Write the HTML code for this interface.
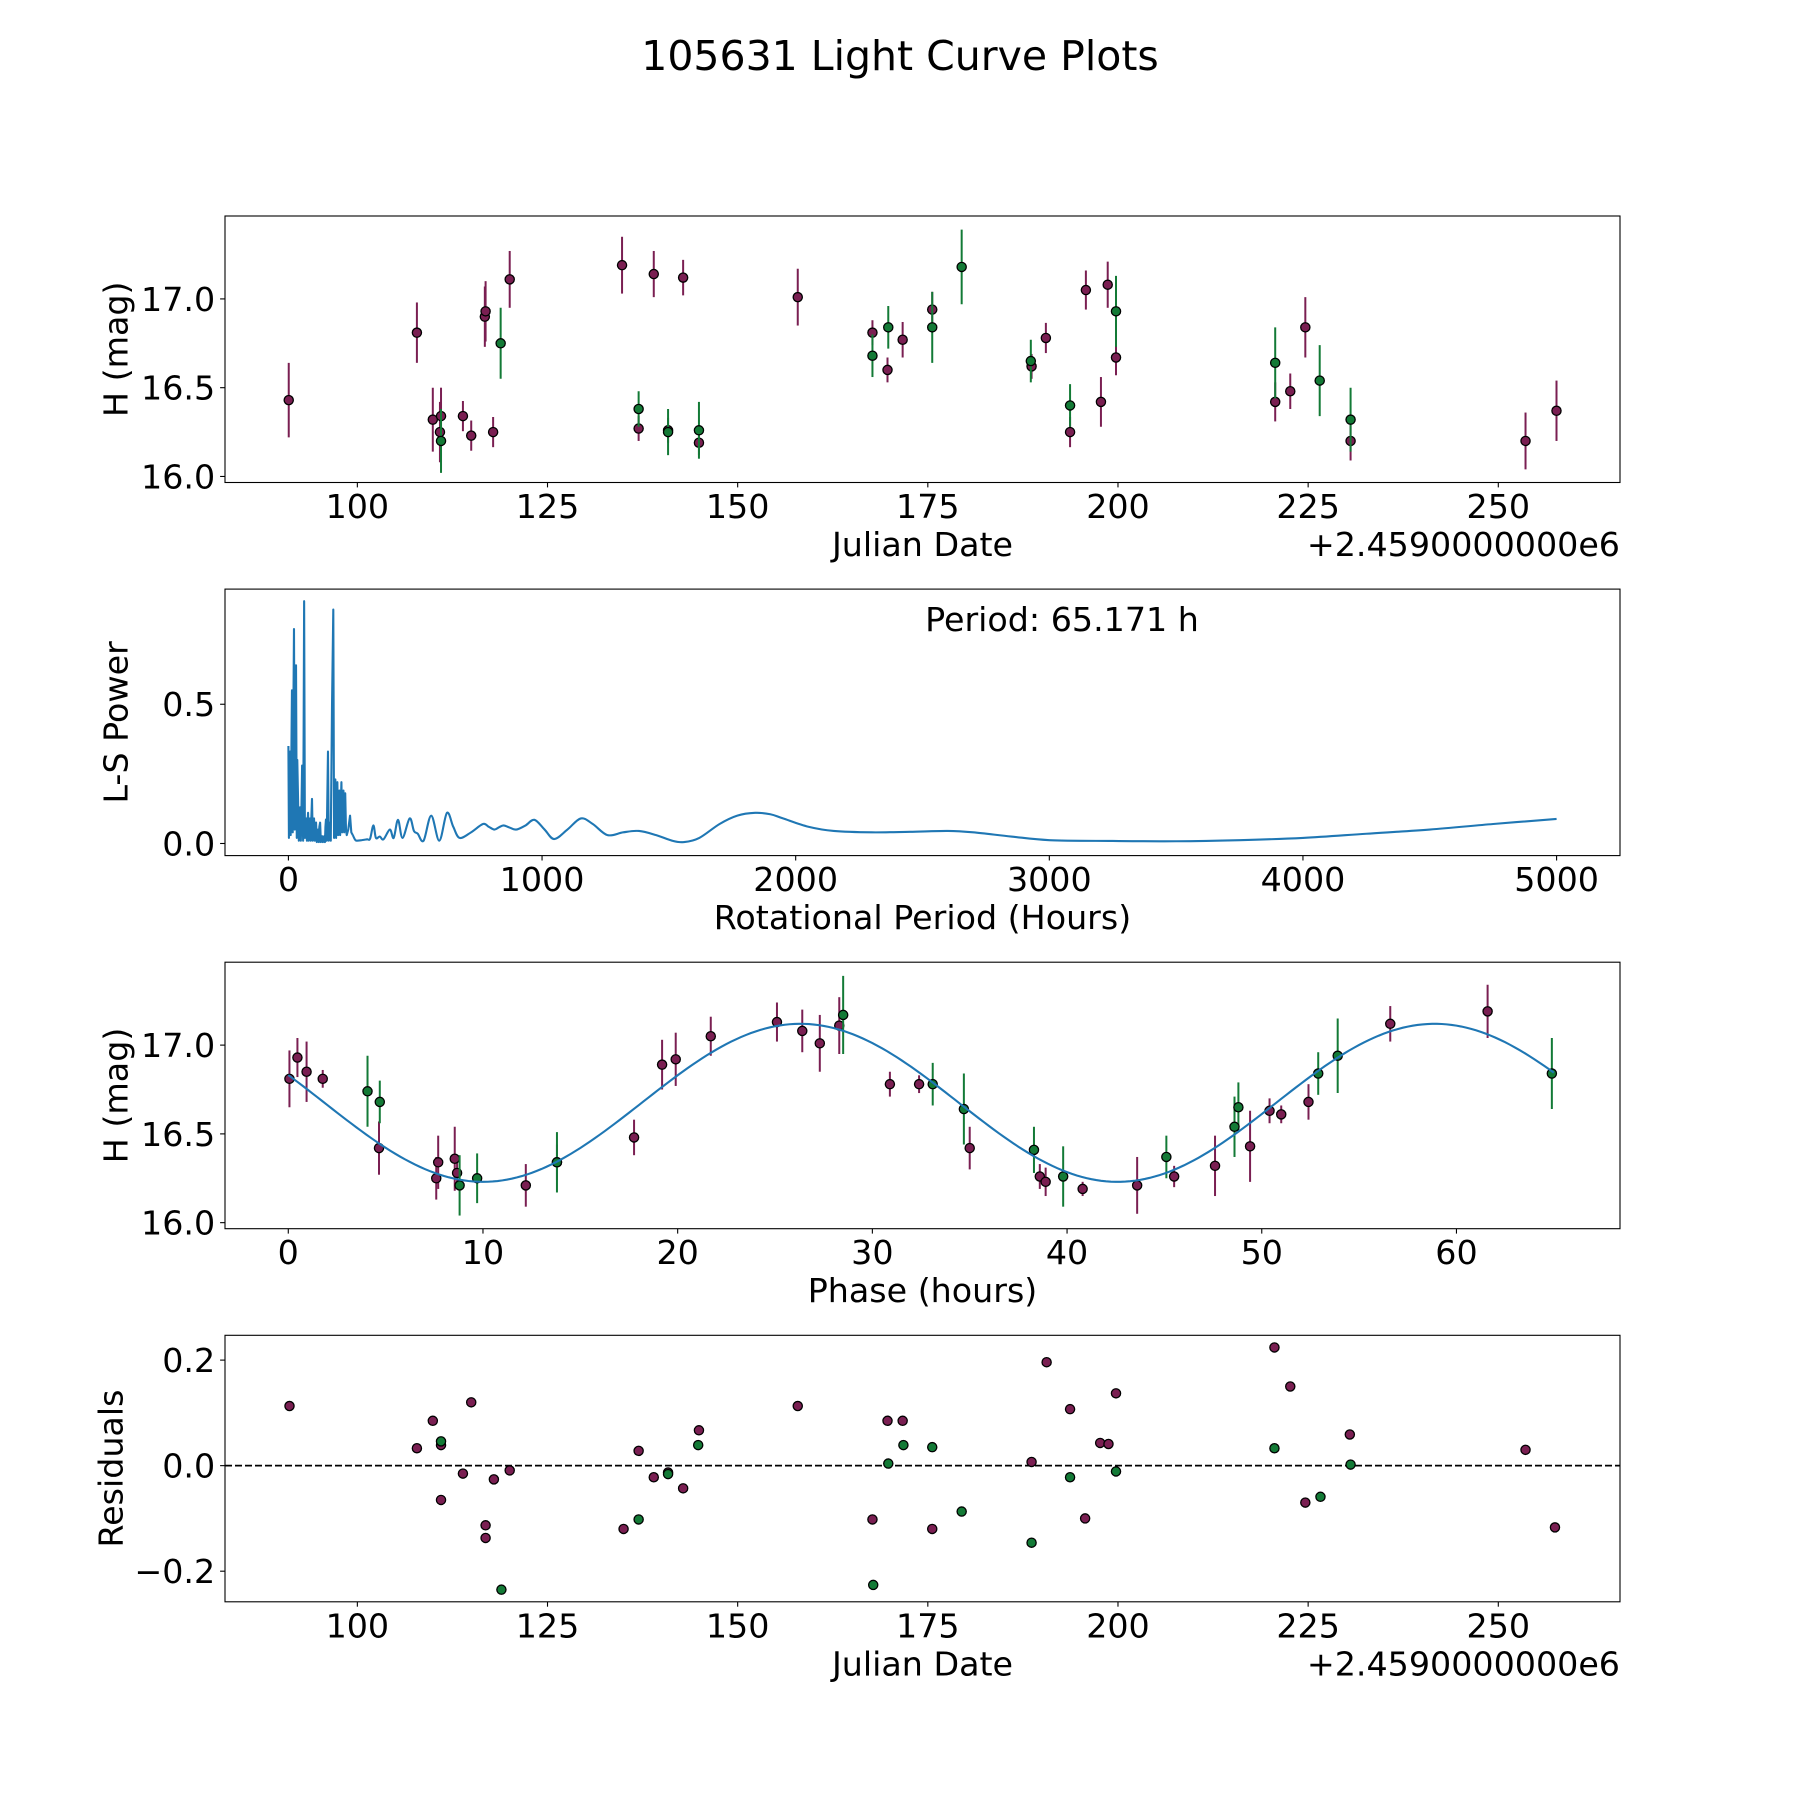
<!DOCTYPE html>
<html><head><meta charset="utf-8"><style>
html,body{margin:0;padding:0;background:#fff;}
svg{display:block;font-family:"DejaVu Sans","Liberation Sans",sans-serif;}
</style></head><body>
<svg id="fig" width="1800" height="1800" viewBox="0 0 1800 1800" xmlns="http://www.w3.org/2000/svg">
<rect width="1800" height="1800" fill="#fff"/>
<text x="900" y="70" font-size="41" text-anchor="middle">105631 Light Curve Plots</text>
</svg>
<script>
// ---- Panel 1: light curve (Julian date offsets) ----
const lcDatesP = [90.98,107.83,109.92,110.86,111.0,113.88,114.97,116.76,116.86,117.85,120.03,134.8,136.98,138.97,140.85,142.83,144.91,157.9,167.72,169.7,171.69,175.58,188.64,190.52,193.7,195.78,197.76,198.65,199.74,220.67,222.65,224.63,230.58,253.58,257.65];
const lcMagP = [16.43,16.81,16.32,16.25,16.34,16.34,16.23,16.90,16.93,16.25,17.11,17.19,16.27,17.14,16.26,17.12,16.19,17.01,16.81,16.60,16.77,16.94,16.62,16.78,16.25,17.05,16.42,17.08,16.67,16.42,16.48,16.84,16.20,16.20,16.37];
const lcErrP = [0.21,0.17,0.18,0.17,0.16,0.085,0.085,0.17,0.17,0.085,0.16,0.16,0.07,0.13,0.07,0.10,0.07,0.16,0.07,0.07,0.10,0.10,0.07,0.085,0.085,0.11,0.14,0.13,0.10,0.11,0.10,0.17,0.11,0.16,0.17];
const lcDatesG = [111.0,118.84,136.98,140.85,144.91,167.72,169.8,175.58,179.45,188.54,193.7,199.74,220.67,226.52,230.58];
const lcMagG = [16.20,16.75,16.38,16.25,16.26,16.68,16.84,16.84,17.18,16.65,16.40,16.93,16.64,16.54,16.32];
const lcErrG = [0.18,0.20,0.10,0.13,0.16,0.12,0.12,0.20,0.21,0.12,0.12,0.20,0.20,0.20,0.18];
const dateTicks = [100,125,150,175,200,225,250];
const magTicks = [16.0,16.5,17.0];
const magTickLabels = ["16.0","16.5","17.0"];

// ---- Panel 2: Lomb-Scargle periodogram ----
const lsPeriod = [0,2,4,6.6,9,11,14,17,19,22,25,27,30,33,35,38,41,43,46,49,51,54,58,60,62,65,67,70,73,75,77.5,80,82,85,88,90,93,96,98,101,104,106,109,112,114,117,120,122,125,128,130,133,136,138,141,144,146,148,151,156,159,164,167,172,177,180,183,185,188,191,193,196,199,201,204,207,209,212,215,217,220,222,224,227,230,236,243,248,254];
const lsPower = [0.35,0.02,0.30,0.33,0.03,0.25,0.55,0.04,0.40,0.77,0.05,0.50,0.64,0.02,0.30,0.16,0.01,0.12,0.13,0.01,0.10,0.28,0.01,0.40,0.87,0.02,0.06,0.09,0.01,0.07,0.11,0.01,0.06,0.09,0.01,0.08,0.16,0.01,0.06,0.09,0.01,0.05,0.075,0.005,0.04,0.05,0.005,0.06,0.075,0.005,0.02,0.026,0.005,0.02,0.026,0.005,0.06,0.086,0.01,0.33,0.01,0.075,0.01,0.50,0.84,0.02,0.10,0.23,0.02,0.15,0.22,0.03,0.12,0.19,0.03,0.15,0.22,0.04,0.12,0.19,0.04,0.14,0.18,0.05,0.03,0.05,0.10,0.04,0.03];
const lsPeriodSmooth = [254,262,269,290,310,322,335,345,360,375,400,415,432,450,478,495,510,533,563,595,625,650,675,720,767,790,812,830,848,870,898,935,970,1010,1048,1100,1153,1200,1258,1320,1382,1450,1513,1560,1620,1700,1770,1840,1900,1950,2050,2150,2300,2450,2600,2700,2850,3000,3250,3500,3750,4000,4250,4500,4750,5000];
const lsPowerSmooth = [0.03,0.015,0.01,0.012,0.015,0.017,0.065,0.02,0.025,0.015,0.05,0.02,0.085,0.02,0.09,0.045,0.035,0.01,0.10,0.01,0.11,0.06,0.02,0.04,0.07,0.06,0.05,0.058,0.065,0.058,0.05,0.065,0.085,0.05,0.016,0.05,0.09,0.07,0.03,0.04,0.045,0.03,0.01,0.005,0.02,0.07,0.10,0.11,0.105,0.09,0.06,0.045,0.04,0.042,0.045,0.04,0.025,0.012,0.009,0.008,0.012,0.02,0.035,0.05,0.07,0.088];
const periodTicks = [0,1000,2000,3000,4000,5000];
const powerTicks = [0.0,0.5];
const powerTickLabels = ["0.0","0.5"];

// ---- Panel 3: phased light curve ----
const phP = [0.06,0.47,0.94,1.77,4.66,7.6,7.7,8.55,8.67,12.2,13.8,17.76,19.2,19.9,21.7,25.1,26.4,27.3,28.3,30.9,32.4,35.0,38.6,38.9,40.8,43.6,45.5,47.6,49.4,50.4,51.0,52.4,56.6,61.6];
const phMagP = [16.81,16.93,16.85,16.81,16.42,16.25,16.34,16.36,16.28,16.21,16.34,16.48,16.89,16.92,17.05,17.13,17.08,17.01,17.11,16.78,16.78,16.42,16.26,16.23,16.19,16.21,16.26,16.32,16.43,16.63,16.61,16.68,17.12,17.19];
const phErrP = [0.16,0.11,0.17,0.05,0.15,0.12,0.15,0.18,0.07,0.12,0.10,0.10,0.14,0.15,0.11,0.11,0.12,0.16,0.16,0.07,0.05,0.12,0.07,0.08,0.04,0.16,0.06,0.17,0.20,0.07,0.05,0.10,0.10,0.15];
const phG = [4.07,4.7,8.8,9.7,13.8,28.5,33.1,34.7,38.3,39.8,45.1,48.6,48.8,52.9,53.9,64.9];
const phMagG = [16.74,16.68,16.21,16.25,16.34,17.17,16.78,16.64,16.41,16.26,16.37,16.54,16.65,16.84,16.94,16.84];
const phErrG = [0.20,0.12,0.17,0.14,0.17,0.22,0.12,0.20,0.13,0.17,0.12,0.17,0.14,0.12,0.21,0.20];
const fitParams = [16.675, 0.445, 26.3, 32.585]; // mean, amplitude, phase of max (h), half rotation period (h)
const phaseTicks = [0,10,20,30,40,50,60];

// ---- Panel 4: residuals ----
const resDatesP = [91.08,107.83,109.92,111.0,111.0,113.88,114.97,116.86,116.86,117.95,120.03,135.0,136.98,138.97,140.85,142.83,144.91,157.9,167.72,169.7,171.69,175.58,188.64,190.62,193.7,195.68,197.66,198.75,199.74,220.57,222.65,224.63,230.48,253.58,257.45];
const resP = [0.113,0.033,0.085,0.039,-0.065,-0.015,0.12,-0.113,-0.137,-0.026,-0.009,-0.12,0.028,-0.022,-0.013,-0.043,0.067,0.113,-0.102,0.085,0.085,-0.12,0.007,0.196,0.107,-0.10,0.043,0.041,0.137,0.224,0.15,-0.07,0.059,0.03,-0.117];
const resDatesG = [111.0,118.94,136.98,140.85,144.81,167.82,169.8,171.79,175.58,179.45,188.64,193.7,199.74,220.57,226.62,230.58];
const resG = [0.046,-0.235,-0.102,-0.016,0.039,-0.226,0.004,0.039,0.035,-0.087,-0.146,-0.022,-0.011,0.033,-0.059,0.002];
const resTicks = [-0.2,0.0,0.2];
const resTickLabels = ["\u22120.2","0.0","0.2"];

const NS = "http://www.w3.org/2000/svg";
const svg = document.getElementById("fig");
const L = 225, R = 1620, H = 266.5;
const PURPLE = "#7a1f52", GREEN = "#137a36", BLUE = "#1f77b4";
function mk(tag, attrs, parent) {
  const e = document.createElementNS(NS, tag);
  for (const k in attrs) e.setAttribute(k, attrs[k]);
  (parent || svg).appendChild(e);
  return e;
}
function scale(d0, d1, r0, r1) { return v => r0 + (v - d0) / (d1 - d0) * (r1 - r0); }

function axes(top, xd, yd, name) {
  const g = mk("g", {});
  
  
  const x = scale(xd[0], xd[1], L, R), y = scale(yd[0], yd[1], top + H, top);
  return {g, x, y, top, bottom: top + H};
}
function frame(ax) {
  const f = mk("rect", {x: L, y: ax.top, width: R - L, height: H, fill: "none", stroke: "#000", "stroke-width": 1.1}, ax.g);
  
  
}
function xticks(ax, vals, labels, label, offset) {
  vals.forEach((v, i) => {
    const px = ax.x(v);
    const t = mk("line", {x1: px, x2: px, y1: ax.bottom, y2: ax.bottom + 4.9, stroke: "#000", "stroke-width": 1.1}, ax.g);
    
    
    const tl = mk("text", {x: px, y: ax.bottom + 35.5, "font-size": 33.3, "text-anchor": "middle"}, ax.g);
    
    
    tl.textContent = labels ? labels[i] : String(v);
  });
  const xl = mk("text", {x: (L + R) / 2, y: ax.bottom + 73.5, "font-size": 33.3, "text-anchor": "middle"}, ax.g);
  
  
  xl.textContent = label;
  if (offset) {
    const o = mk("text", {x: R, y: ax.bottom + 73.5, "font-size": 33.3, "text-anchor": "end"}, ax.g);
    
    
    o.textContent = offset;
  }
}
function yticks(ax, vals, labels, label, lx) {
  vals.forEach((v, i) => {
    const py = ax.y(v);
    const t = mk("line", {x1: L - 4.9, x2: L, y1: py, y2: py, stroke: "#000", "stroke-width": 1.1}, ax.g);
    
    
    const tl = mk("text", {x: L - 9.8, y: py + 12, "font-size": 33.3, "text-anchor": "end"}, ax.g);
    
    
    tl.textContent = labels[i];
  });
  const cy = ax.top + H / 2;
  const yl = mk("text", {x: lx, y: cy, "font-size": 33.3, "text-anchor": "middle", transform: `rotate(-90 ${lx} ${cy})`, "dominant-baseline": "central"}, ax.g);
  
  
  yl.textContent = label;
}
function errPoints(ax, xs, ys, es, color, name) {
  xs.forEach((v, i) => {
    if (es) {
      const b = mk("line", {x1: ax.x(v), x2: ax.x(v), y1: ax.y(ys[i] - es[i]), y2: ax.y(ys[i] + es[i]), stroke: color, "stroke-width": 2}, ax.g);
      
      
    }
  });
  xs.forEach((v, i) => {
    const c = mk("circle", {cx: ax.x(v), cy: ax.y(ys[i]), r: 4.6, fill: color, stroke: "#000", "stroke-width": 1.3}, ax.g);
    
    
  });
}

// Panel 1
const a1 = axes(216, [82.6, 266.0], [15.966, 17.467], "light-curve-panel");
errPoints(a1, lcDatesP, lcMagP, lcErrP, PURPLE, 'purple-observation');
errPoints(a1, lcDatesG, lcMagG, lcErrG, GREEN, 'green-observation');
frame(a1);
xticks(a1, dateTicks, null, "Julian Date", "+2.4590000000e6");
yticks(a1, magTicks, magTickLabels, "H (mag)", 116);

// Panel 2
const a2 = axes(589.1, [-250, 5250], [-0.0435, 0.9135], "periodogram-panel");
const pts = lsPeriod.map((p, i) => a2.x(p).toFixed(2) + "," + a2.y(lsPower[i]).toFixed(2)).join(" ");
const pl = mk("polyline", {points: pts, fill: "none", stroke: BLUE, "stroke-width": 2.1, "stroke-linejoin": "round"}, a2.g);


const sp = lsPeriodSmooth.map((p, i) => [a2.x(p), a2.y(lsPowerSmooth[i])]);
let d = `M${sp[0][0].toFixed(2)},${sp[0][1].toFixed(2)}`;
for (let i = 0; i < sp.length - 1; i++) {
  const p0 = sp[Math.max(0, i - 1)], p1 = sp[i], p2 = sp[i + 1], p3 = sp[Math.min(sp.length - 1, i + 2)];
  const c1x = p1[0] + (p2[0] - p0[0]) / 6, c1y = p1[1] + (p2[1] - p0[1]) / 6;
  const c2x = p2[0] - (p3[0] - p1[0]) / 6, c2y = p2[1] - (p3[1] - p1[1]) / 6;
  d += ` C${c1x.toFixed(2)},${c1y.toFixed(2)} ${c2x.toFixed(2)},${c2y.toFixed(2)} ${p2[0].toFixed(2)},${p2[1].toFixed(2)}`;
}
const sl = mk("path", {d: d, fill: "none", stroke: BLUE, "stroke-width": 2.1}, a2.g);


frame(a2);
xticks(a2, periodTicks, null, "Rotational Period (Hours)");
yticks(a2, powerTicks, powerTickLabels, "L-S Power", 116);
const pt = mk("text", {x: 1062, y: 631, "font-size": 33.3, "text-anchor": "middle"}, a2.g);


pt.textContent = "Period: 65.171 h";

// Panel 3
const a3 = axes(962.2, [-3.25, 68.4], [15.966, 17.467], "phased-curve-panel");
errPoints(a3, phP, phMagP, phErrP, PURPLE, 'purple-phase');
errPoints(a3, phG, phMagG, phErrG, GREEN, 'green-phase');
const fit = [];
for (let t = 0; t <= 65.171; t += 0.25) {
  const m = fitParams[0] + fitParams[1] * Math.cos(2 * Math.PI * (t - fitParams[2]) / fitParams[3]);
  fit.push(a3.x(t).toFixed(2) + "," + a3.y(m).toFixed(2));
}
const fl = mk("polyline", {points: fit.join(" "), fill: "none", stroke: BLUE, "stroke-width": 2.1}, a3.g);


frame(a3);
xticks(a3, phaseTicks, null, "Phase (hours)");
yticks(a3, magTicks, magTickLabels, "H (mag)", 116);

// Panel 4
const a4 = axes(1335.3, [82.6, 266.0], [-0.258, 0.247], "residuals-panel");
const zl = mk("line", {x1: L, x2: R, y1: a4.y(0), y2: a4.y(0), stroke: "#000", "stroke-width": 1.8, "stroke-dasharray": "7,3"}, a4.g);


errPoints(a4, resDatesP, resP, null, PURPLE, 'purple-residual');
errPoints(a4, resDatesG, resG, null, GREEN, 'green-residual');
frame(a4);
xticks(a4, dateTicks, null, "Julian Date", "+2.4590000000e6");
yticks(a4, resTicks, resTickLabels, "Residuals", 111);
</script>
</body></html>
